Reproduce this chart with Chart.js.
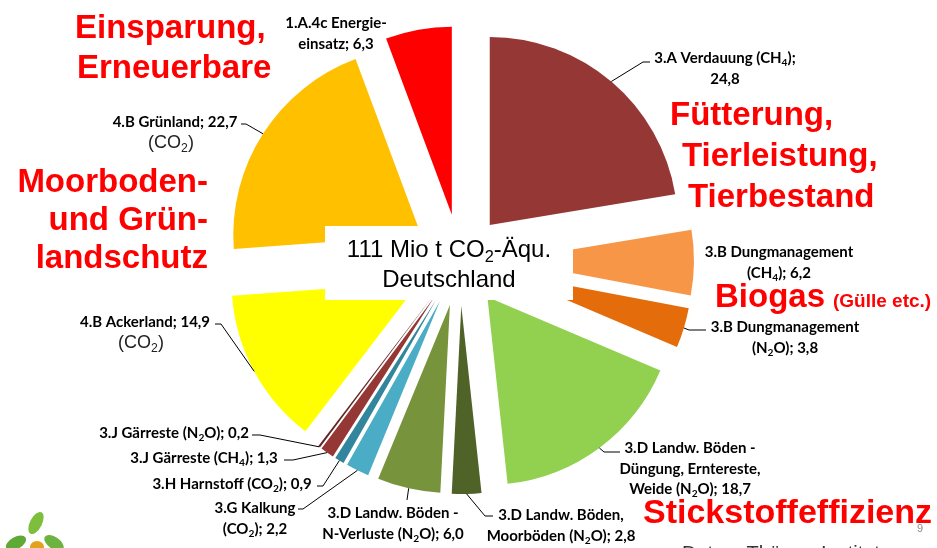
<!DOCTYPE html>
<html>
<head>
<meta charset="utf-8">
<script src="https://cdn.jsdelivr.net/npm/chart.js@4.4.1/dist/chart.umd.min.js"></script>
<style>
  html, body { margin: 0; padding: 0; background: #fff; }
  canvas { display: block; }
</style>
</head>
<body>
<canvas id="chart" width="937" height="548"></canvas>
<script>
// Treibhausgase Landwirtschaft Deutschland, Mio t CO2-Äqu.
const categories = [
  '3.A Verdauung (CH4)', '3.B Dungmanagement (CH4)', '3.B Dungmanagement (N2O)',
  '3.D Landw. Böden - Düngung, Erntereste, Weide (N2O)', '3.D Landw. Böden, Moorböden (N2O)',
  '3.D Landw. Böden - N-Verluste (N2O)', '3.G Kalkung (CO2)', '3.H Harnstoff (CO2)',
  '3.J Gärreste (CH4)', '3.J Gärreste (N2O)', '4.B Ackerland (CO2)', '4.B Grünland (CO2)',
  '1.A.4c Energieeinsatz'
];
const values = [24.8, 6.2, 3.8, 18.7, 2.8, 6.0, 2.2, 0.9, 1.3, 0.2, 14.9, 22.7, 6.3];
const colors = ['#953735', '#F79646', '#E46C0A', '#92D050', '#4F6228', '#77933C',
  '#4BACC6', '#31859C', '#953735', '#632523', '#FFFF00', '#FFC000', '#FF0000'];

// label text per slice ("_4" = subscript, {v} = value)
const labelLines = [
  ['3.A Verdauung (CH_4);', '{v}'],
  ['3.B Dungmanagement', '(CH_4); {v}'],
  ['3.B Dungmanagement', '(N_2O); {v}'],
  ['3.D Landw. Böden -', 'Düngung, Erntereste,', 'Weide (N_2O); {v}'],
  ['3.D Landw. Böden,', 'Moorböden (N_2O); {v}'],
  ['3.D Landw. Böden -', 'N-Verluste (N_2O); {v}'],
  ['3.G Kalkung', '(CO_2); {v}'],
  ['3.H Harnstoff (CO_2); {v}'],
  ['3.J Gärreste (CH_4); {v}'],
  ['3.J Gärreste (N_2O); {v}'],
  ['4.B Ackerland; {v}'],
  ['4.B Grünland; {v}'],
  ['1.A.4c Energie-', 'einsatz; {v}']
];
const gasNote = [null, null, null, null, null, null, null, null, null, null, '(CO_2)', '(CO_2)', null];

const EXPLODE = 46;
const RADIUS = 188;

// where the labels sit and where the leader lines end
const labelPos = [
  {x: 725, y: 63, lead: [643, 62, 7]},
  {x: 779, y: 257},
  {x: 785, y: 332, lead: [689, 330, 17]},
  {x: 690, y: 453, lead: [604, 452, 16]},
  {x: 561, y: 520, lead: [485, 516, 8]},
  {x: 393, y: 518, lead: [407, 500, 0]},
  {x: 255, y: 513, lead: [303, 509, -5]},
  {x: 232, y: 489, lead: [323, 486, -6]},
  {x: 204, y: 463, lead: [293, 460, -9]},
  {x: 174, y: 438, lead: [260, 435, -8]},
  {x: 145, y: 327, lead: [221, 324, -6]},
  {x: 175, y: 127, lead: [246, 124, -5]},
  {x: 336, y: 28}
];

const notes = [
  {t: 'Einsparung,', x: 75, y: 38, size: 33, align: 'left'},
  {t: 'Erneuerbare', x: 77, y: 78, size: 33, align: 'left'},
  {t: 'Moorboden-', x: 208, y: 192, size: 33, align: 'right'},
  {t: 'und Grün-', x: 208, y: 230, size: 33, align: 'right'},
  {t: 'landschutz', x: 208, y: 268, size: 33, align: 'right'},
  {t: 'Fütterung,', x: 670, y: 125, size: 33, align: 'left'},
  {t: 'Tierleistung,', x: 682, y: 166, size: 33, align: 'left'},
  {t: 'Tierbestand', x: 688, y: 207, size: 33, align: 'left'},
  {t: 'Biogas', x: 715, y: 307, size: 33, align: 'left'},
  {t: '(Gülle etc.)', x: 833, y: 307, size: 19, align: 'left'},
  {t: 'Stickstoffeffizienz', x: 643, y: 523, size: 34, align: 'left'}
];

const LABEL_FONT = 'Lato';
const LABEL_SIZE = 15;

function fmt(v) {
  return v.toFixed(1).replace('.', ',');
}

function segs(text) {
  const out = [];
  let buf = '';
  for (let i = 0; i < text.length; i++) {
    if (text[i] === '_' && i + 1 < text.length) {
      if (buf) out.push({t: buf, sub: false});
      buf = '';
      out.push({t: text[i + 1], sub: true});
      i++;
    } else {
      buf += text[i];
    }
  }
  if (buf) out.push({t: buf, sub: false});
  return out;
}

function drawRich(ctx, text, cx, y, size, weight, family, color) {
  const parts = segs(text);
  const f = s => weight + ' ' + s + 'px "' + family + '"';
  let w = 0;
  parts.forEach(p => {
    ctx.font = f(p.sub ? size * 0.68 : size);
    p.w = ctx.measureText(p.t).width;
    w += p.w;
  });
  let x = cx - w / 2;
  ctx.fillStyle = color;
  ctx.textAlign = 'left';
  ctx.textBaseline = 'alphabetic';
  parts.forEach(p => {
    ctx.font = f(p.sub ? size * 0.68 : size);
    ctx.fillText(p.t, x, p.sub ? y + size * 0.22 : y);
    x += p.w;
  });
}

// move every slice out along its middle angle (like Excel's point explosion)
const explode = {
  id: 'explode',
  beforeDatasetDraw(chart, args) {
    args.meta.data.forEach(arc => {
      const mid = (arc.startAngle + arc.endAngle) / 2;
      arc.$ox = arc.x;
      arc.$oy = arc.y;
      arc.x += Math.cos(mid) * EXPLODE;
      arc.y += Math.sin(mid) * EXPLODE;
    });
  },
  afterDatasetDraw(chart, args) {
    args.meta.data.forEach(arc => {
      arc.x = arc.$ox;
      arc.y = arc.$oy;
    });
  }
};

const decorations = {
  id: 'decorations',
  afterDraw(chart) {
    const ctx = chart.ctx;
    const arcs = chart.getDatasetMeta(0).data;
    ctx.save();

    // centre box
    ctx.fillStyle = '#fff';
    ctx.fillRect(325, 226, 248, 74);
    drawRich(ctx, '111 Mio t CO_2-Äqu.', 449, 257, 24, 'normal', 'Liberation Sans', '#000');
    drawRich(ctx, 'Deutschland', 449, 287, 24, 'normal', 'Liberation Sans', '#000');

    // leader lines + slice labels
    arcs.forEach((arc, i) => {
      const pos = labelPos[i];
      const mid = (arc.startAngle + arc.endAngle) / 2;
      if (pos.lead) {
        const r = EXPLODE + arc.outerRadius;
        const ax = arc.x + Math.cos(mid) * r;
        const ay = arc.y + Math.sin(mid) * r;
        ctx.strokeStyle = '#000';
        ctx.lineWidth = 1;
        ctx.beginPath();
        ctx.moveTo(ax, ay);
        ctx.lineTo(pos.lead[0], pos.lead[1]);
        ctx.lineTo(pos.lead[0] + pos.lead[2], pos.lead[1]);
        ctx.stroke();
      }
      const lines = labelLines[i];
      lines.forEach((ln, k) => {
        drawRich(ctx, ln.replace('{v}', fmt(values[i])), pos.x, pos.y + k * 20.5,
          LABEL_SIZE, 'bold', LABEL_FONT, '#000');
      });
      if (gasNote[i]) {
        drawRich(ctx, gasNote[i], pos.x - 4, pos.y + 21, 18, 'normal', 'Liberation Sans', '#222');
      }
    });

    // red remarks
    ctx.fillStyle = '#FF0000';
    ctx.textBaseline = 'alphabetic';
    notes.forEach(n => {
      ctx.font = 'bold ' + n.size + 'px "Liberation Sans"';
      ctx.textAlign = n.align;
      ctx.fillText(n.t, n.x, n.y);
    });

    // page number and source line
    ctx.fillStyle = '#8C8C8C';
    ctx.font = '11px "Liberation Sans"';
    ctx.textAlign = 'left';
    ctx.fillText('9', 917, 532);
    ctx.fillStyle = '#333';
    ctx.font = '20px "Liberation Sans"';
    ctx.fillText('Daten: Thünen-Institut', 682, 560);

    // small logo bottom left
    const leaf = (x, y, rx, ry, rot, c) => {
      ctx.fillStyle = c;
      ctx.beginPath();
      ctx.ellipse(x, y, rx, ry, rot, 0, Math.PI * 2);
      ctx.fill();
    };
    leaf(36, 523, 12, 6, -1.1, '#7DBE3C');
    leaf(16, 543, 11, 6, -0.5, '#5FA935');
    leaf(54, 543, 11, 6, 0.6, '#6DB33F');
    leaf(37, 547, 7, 6, 0, '#E3A21A');
    ctx.restore();
  }
};

const chart = new Chart(document.getElementById('chart'), {
  type: 'pie',
  data: {
    labels: categories,
    datasets: [{
      data: values,
      backgroundColor: colors,
      borderWidth: 0,
      radius: RADIUS
    }]
  },
  options: {
    responsive: false,
    devicePixelRatio: 1,
    animation: false,
    events: [],
    layout: { padding: { left: 0, top: 0, right: 17, bottom: 28 } },
    plugins: {
      legend: { display: false },
      tooltip: { enabled: false }
    }
  },
  plugins: [explode, decorations]
});
</script>
</body>
</html>
